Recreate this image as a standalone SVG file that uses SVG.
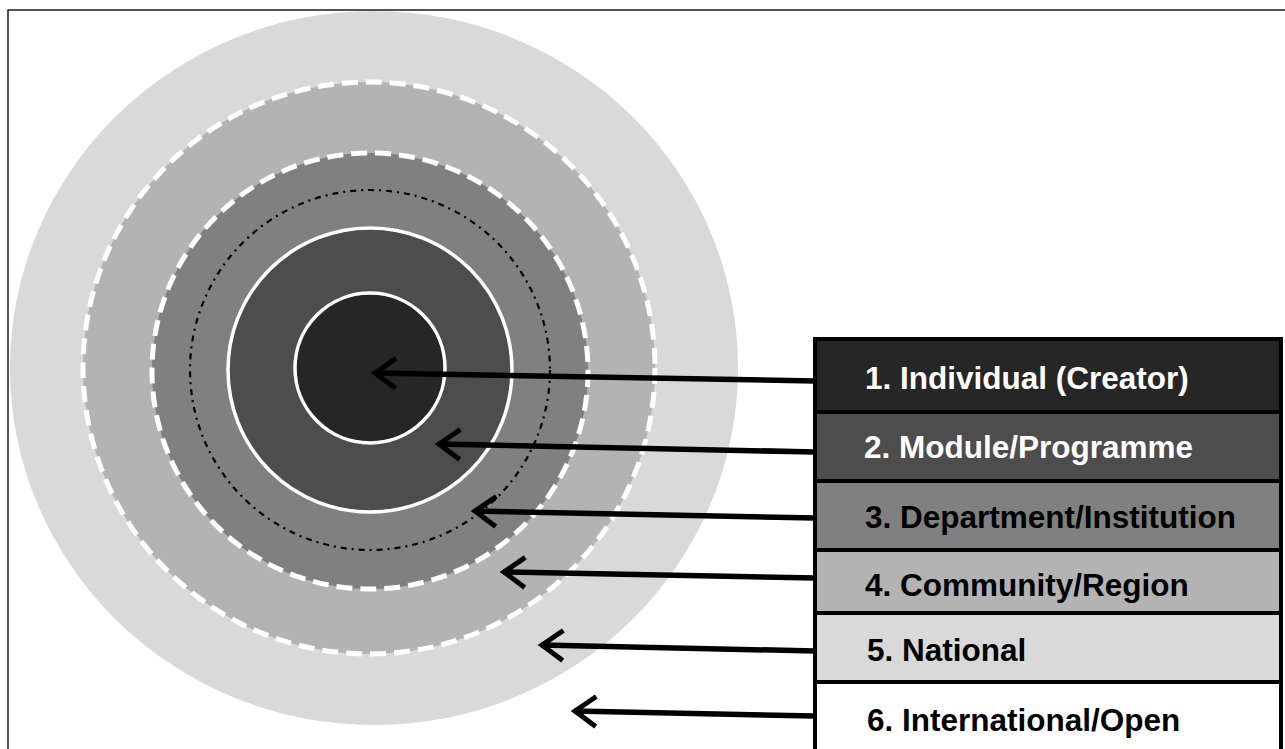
<svg xmlns="http://www.w3.org/2000/svg" width="1285" height="749" viewBox="0 0 1285 749">
<defs>
<style>
.ring-dash{fill:none;stroke:#ffffff;stroke-width:5;stroke-dasharray:16 8}
.ring-solid{fill:none;stroke:#ffffff;stroke-width:3.5}
.conn{fill:none;stroke:#000;stroke-width:5.5;marker-end:url(#chev)}
.box{stroke:#000;stroke-width:4}
.lbl{font-family:"Liberation Sans",Arial,sans-serif;font-weight:bold;font-size:31.5px}
</style>
<marker id="chev" markerUnits="userSpaceOnUse" viewBox="-30 -20 40 40" refX="0" refY="0" markerWidth="40" markerHeight="40" orient="auto">
<path d="M-22,-15 L-1,0 L-22,15" fill="none" stroke="#000" stroke-width="5"/>
</marker>
</defs>
<rect width="1285" height="749" fill="#ffffff"/>
<rect x="8" y="10" width="1290" height="760" fill="none" stroke="#2a2a2a" stroke-width="1.6"/>

<g id="ring5"><ellipse cx="374" cy="368" rx="364" ry="357" fill="#d9d9d9"/></g>
<g id="ring4"><circle cx="369" cy="368" r="286" fill="#b3b3b3"/><circle cx="369" cy="368" r="286" class="ring-dash"/></g>
<g id="ring3"><circle cx="370" cy="371" r="218" fill="#808080"/><circle cx="370" cy="371" r="218" class="ring-dash"/>
<circle cx="370" cy="370" r="180" fill="none" stroke="#000" stroke-width="2.2" stroke-dasharray="6 5 2 5"/></g>
<g id="ring2"><circle cx="370" cy="370" r="142" fill="#4d4d4d"/><circle cx="370" cy="370" r="142" class="ring-solid"/></g>
<g id="ring1"><circle cx="370" cy="368" r="75" fill="#262626"/><circle cx="370" cy="368" r="75" class="ring-solid"/></g>

<g id="connectors">
<line class="conn" x1="815" y1="381" x2="374" y2="373"/>
<line class="conn" x1="815" y1="452" x2="438" y2="444"/>
<line class="conn" x1="815" y1="518" x2="474" y2="511"/>
<line class="conn" x1="815" y1="578" x2="503" y2="572"/>
<line class="conn" x1="815" y1="651" x2="541" y2="645"/>
<line class="conn" x1="815" y1="716" x2="574" y2="711"/>
</g>

<g id="legend1"><rect class="box" x="815" y="339" width="466" height="73" fill="#262626"/><text class="lbl" x="865" y="389" fill="#ffffff">1. Individual (Creator)</text></g>
<g id="legend2"><rect class="box" x="815" y="412" width="466" height="69" fill="#4d4d4d"/><text class="lbl" x="864" y="458" fill="#ffffff">2. Module/Programme</text></g>
<g id="legend3"><rect class="box" x="815" y="481" width="466" height="69" fill="#808080"/><text class="lbl" x="865" y="528" fill="#000000">3. Department/Institution</text></g>
<g id="legend4"><rect class="box" x="815" y="550" width="466" height="63" fill="#b3b3b3"/><text class="lbl" x="865" y="596" fill="#000000">4. Community/Region</text></g>
<g id="legend5"><rect class="box" x="815" y="613" width="466" height="69" fill="#d9d9d9"/><text class="lbl" x="867" y="661" fill="#000000">5. National</text></g>
<g id="legend6"><rect class="box" x="815" y="682" width="466" height="80" fill="#ffffff"/><text class="lbl" x="867" y="731" fill="#000000">6. International/Open</text></g>
</svg>
